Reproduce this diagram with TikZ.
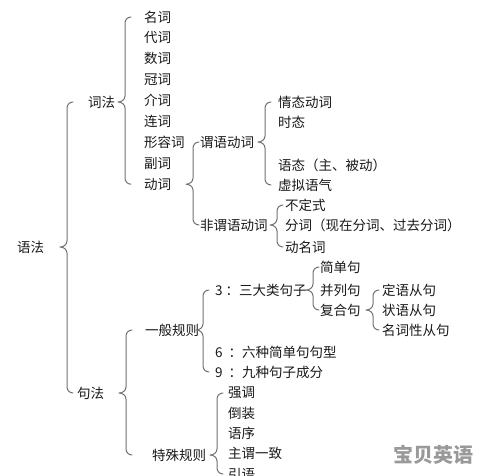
\documentclass[tikz,border=0pt]{standalone}
\usepackage{fontspec}
\setmainfont{Noto Sans CJK SC}
\usetikzlibrary{calc}
% brace: parent, top child, bottom child, gap before the children
\newcommand{\kuohao}[4]{%
  \draw[brc] let \p1=(#1.east), \p2=(#2.west), \p3=(#3.west), \p4=($(#2.west)+(-#4,0)$) in
    (\x4+6pt,\y2) to[out=180,in=90] (\x4,\y2-6pt) -- (\x4,\y1+6pt) to[out=-90,in=0] (\x4-7pt,\y1)
    to[out=0,in=90] (\x4,\y1-6pt) -- (\x4,\y3+6pt) to[out=-90,in=180] (\x4+6pt,\y3);}
\begin{document}
\begin{tikzpicture}[x=1pt,y=1pt,line join=round,line cap=round,
  ci/.style={anchor=west,inner sep=0pt,text=black!90,font=\fontsize{13.5}{15}\selectfont},
  brc/.style={draw=black!55,line width=1pt}]
\path[use as bounding box,fill=white] (0,0) rectangle (480,-475);
% words
\node[ci] (yufa) at (17,-247) {语法};
\node[ci] (cifa) at (88,-102) {词法};
\node[ci] (jufa) at (77,-393) {句法};
\foreach \n/\t [count=\i] in {mingci/名词,daici/代词,shuci/数词,guanci/冠词,jieci/介词,lianci/连词,xingrongci/形容词,fuci/副词,dongci/动词}
  \node[ci] (\n) at (144,{-17-20.9*(\i-1)}) {\t};
\node[ci] (weiyu) at (200,-142) {谓语动词};
\node[ci] (feiweiyu) at (200,-225) {非谓语动词};
\node[ci] (qingtai) at (278,-102) {情态动词};
\node[ci] (shitai) at (278,-122) {时态};
\node[ci] (yutai) at (278,-165) {语态（主、被动）};
\node[ci] (xuni) at (278,-185) {虚拟语气};
\node[ci] (budingshi) at (285,-205) {不定式};
\node[ci] (fenci) at (285,-225) {分词（现在分词、过去分词）};
\node[ci] (dongmingci) at (285,-247) {动名词};
% sentences
\node[ci] (yiban) at (145,-330) {一般规则};
\node[ci] (teshu) at (152,-455) {特殊规则};
\node[ci] (sanda) at (215,-290) {3 ：三大类句子};
\node[ci] (liuzhong) at (215,-352) {6\ \ ：六种简单句句型};
\node[ci] (jiuzhong) at (215,-372) {9\ \ ：九种句子成分};
\node[ci] (jiandan) at (320,-267) {简单句};
\node[ci] (binglie) at (320,-290) {并列句};
\node[ci] (fuhe) at (320,-310) {复合句};
\node[ci] (dingyu) at (382,-290) {定语从句};
\node[ci] (zhuangyu) at (382,-310) {状语从句};
\node[ci] (mingcixing) at (382,-330) {名词性从句};
\node[ci] (qiangdiao) at (228,-393) {强调};
\node[ci] (daozhuang) at (228,-413) {倒装};
\node[ci] (yuxu) at (228,-433) {语序};
\node[ci] (zhuwei) at (228,-453) {主谓一致};
\node[ci] (yinyu) at (228,-474) {引语};
\node[text=black!40,font=\fontsize{20}{22}\selectfont\bfseries] (wm) at (433,-455) {宝贝英语};
% braces
\kuohao{yufa}{cifa}{jufa}{21}
\kuohao{cifa}{mingci}{dongci}{19}
\kuohao{dongci}{weiyu}{feiweiyu}{7}
\kuohao{weiyu}{qingtai}{xuni}{13}
\kuohao{feiweiyu}{budingshi}{dongmingci}{8}
\kuohao{jufa}{yiban}{teshu}{19}
\kuohao{yiban}{sanda}{jiuzhong}{12}
\kuohao{sanda}{jiandan}{fuhe}{7}
\kuohao{fuhe}{dingyu}{mingcixing}{9}
\kuohao{teshu}{qiangdiao}{yinyu}{11}
\end{tikzpicture}
\end{document}
